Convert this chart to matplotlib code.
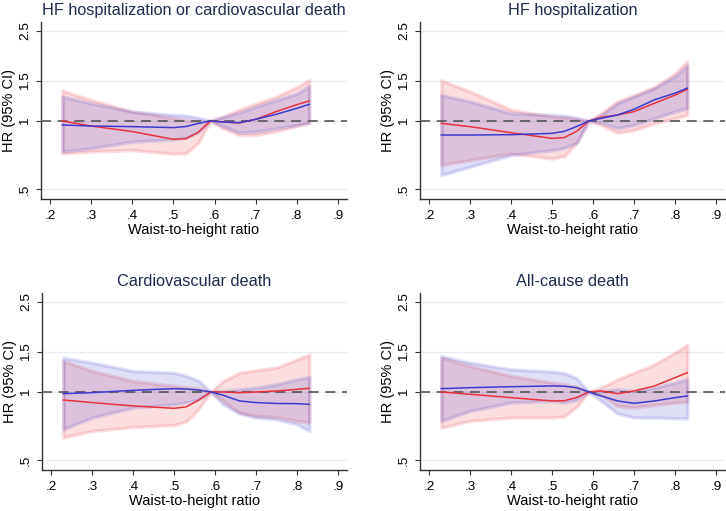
"""Waist-to-height ratio vs HR, restricted cubic spline, two groups, 4 outcomes."""
import matplotlib
matplotlib.use("Agg")
import matplotlib.pyplot as plt
from matplotlib.ticker import FixedLocator, NullLocator

matplotlib.rcParams.update({
    "font.family": ["Liberation Sans", "DejaVu Sans"], "font.size": 10,
    "axes.linewidth": 1, "xtick.direction": "out", "ytick.direction": "out",
    "xtick.major.size": 3.6, "ytick.major.size": 3.6,
})

whtr = [0.23, 0.30, 0.40, 0.50, 0.53, 0.56, 0.59, 0.62, 0.66, 0.70, 0.75, 0.80, 0.83]

titles = ["HF hospitalization or cardiovascular death", "HF hospitalization",
          "Cardiovascular death", "All-cause death"]

# HF hospitalization or CV death
hfcv_red = [1.0, 0.95, 0.898, 0.83, 0.835, 0.89, 1.0, 0.99, 0.98, 1.017, 1.10, 1.18, 1.225]
hfcv_red_hi = [1.36, 1.237, 1.10, 1.03, 1.01, 0.995, 1.0, 1.045, 1.12, 1.19, 1.28, 1.41, 1.515]
hfcv_red_lo = [0.72, 0.733, 0.745, 0.716, 0.72, 0.80, 1.0, 0.93, 0.868, 0.868, 0.90, 0.95, 0.977]
hfcv_blue = [0.96, 0.95, 0.944, 0.935, 0.945, 0.975, 1.0, 0.99, 0.983, 1.017, 1.07, 1.137, 1.184]
hfcv_blue_hi = [1.28, 1.196, 1.10, 1.063, 1.055, 1.035, 1.0, 1.04, 1.088, 1.156, 1.237, 1.32, 1.426]
hfcv_blue_lo = [0.733, 0.758, 0.81, 0.83, 0.845, 0.89, 1.0, 0.95, 0.889, 0.897, 0.928, 0.96, 0.983]

# HF hospitalization
hfh_red = [0.976, 0.944, 0.888, 0.838, 0.845, 0.90, 1.0, 1.038, 1.063, 1.10, 1.197, 1.30, 1.38]
hfh_red_hi = [1.51, 1.35, 1.12, 1.045, 1.035, 1.02, 1.0, 1.08, 1.22, 1.30, 1.41, 1.62, 1.83]
hfh_red_lo = [0.64, 0.672, 0.719, 0.683, 0.70, 0.80, 1.0, 0.96, 0.888, 0.912, 0.976, 1.027, 1.063]
hfh_blue = [0.867, 0.867, 0.87, 0.882, 0.90, 0.945, 1.0, 1.027, 1.063, 1.126, 1.24, 1.326, 1.395]
hfh_blue_hi = [1.30, 1.218, 1.081, 1.063, 1.055, 1.035, 1.0, 1.06, 1.197, 1.28, 1.395, 1.57, 1.75]
hfh_blue_lo = [0.577, 0.628, 0.707, 0.744, 0.76, 0.80, 1.0, 0.983, 0.928, 0.96, 1.027, 1.10, 1.138]

# Cardiovascular death
cvd_red = [0.922, 0.898, 0.868, 0.847, 0.86, 0.92, 1.0, 1.0, 0.993, 1.0, 1.01, 1.027, 1.038]
cvd_red_hi = [1.37, 1.237, 1.118, 1.063, 1.05, 1.035, 1.0, 1.118, 1.216, 1.246, 1.28, 1.39, 1.465]
cvd_red_lo = [0.63, 0.673, 0.70, 0.715, 0.74, 0.84, 1.0, 0.913, 0.811, 0.784, 0.776, 0.745, 0.733]
cvd_blue = [0.983, 0.993, 1.017, 1.034, 1.03, 1.02, 1.0, 0.967, 0.913, 0.898, 0.89, 0.888, 0.882]
cvd_blue_hi = [1.416, 1.346, 1.237, 1.216, 1.18, 1.12, 1.0, 1.01, 1.027, 1.045, 1.081, 1.137, 1.164]
cvd_blue_lo = [0.685, 0.771, 0.853, 0.882, 0.90, 0.93, 1.0, 0.882, 0.803, 0.771, 0.758, 0.72, 0.673]

# All-cause death
acd_red = [1.0, 0.977, 0.944, 0.913, 0.915, 0.945, 1.0, 1.01, 0.983, 1.01, 1.063, 1.156, 1.216]
acd_red_hi = [1.416, 1.30, 1.176, 1.099, 1.08, 1.055, 1.0, 1.045, 1.137, 1.216, 1.323, 1.49, 1.61]
acd_red_lo = [0.696, 0.745, 0.771, 0.771, 0.78, 0.86, 1.0, 0.97, 0.868, 0.853, 0.876, 0.898, 0.906]
acd_blue = [1.034, 1.045, 1.055, 1.063, 1.06, 1.045, 1.0, 0.96, 0.913, 0.891, 0.913, 0.944, 0.96]
acd_blue_hi = [1.44, 1.346, 1.258, 1.229, 1.21, 1.15, 1.0, 1.01, 1.027, 1.01, 1.045, 1.099, 1.137]
acd_blue_lo = [0.745, 0.825, 0.898, 0.913, 0.90, 0.92, 1.0, 0.913, 0.803, 0.771, 0.771, 0.766, 0.763]

panels = [
    (hfcv_red, hfcv_red_lo, hfcv_red_hi, hfcv_blue, hfcv_blue_lo, hfcv_blue_hi),
    (hfh_red, hfh_red_lo, hfh_red_hi, hfh_blue, hfh_blue_lo, hfh_blue_hi),
    (cvd_red, cvd_red_lo, cvd_red_hi, cvd_blue, cvd_blue_lo, cvd_blue_hi),
    (acd_red, acd_red_lo, acd_red_hi, acd_blue, acd_blue_lo, acd_blue_hi),
]

xticks = [0.2, 0.3, 0.4, 0.5, 0.6, 0.7, 0.8, 0.9]
xticklabels = [".2", ".3", ".4", ".5", ".6", ".7", ".8", ".9"]
yticks = [0.5, 1, 1.5, 2.5]
yticklabels = [".5", "1", "1.5", "2.5"]

RED = "#e8323c"
BLUE = "#3c3ccc"
TITLE_C = "#1c2a4e"

W, H = 726, 511
fig = plt.figure(figsize=(W / 100, H / 100), dpi=100)

# axes boxes in pixels: left, top, right, bottom
boxes = [(41, 22, 347, 199), (420, 22, 725, 199),
         (42, 293, 347, 470), (420, 293, 725, 470)]

for (l, t, r, b), title, data in zip(boxes, titles, panels):
    ax = fig.add_axes([l / W, (H - b) / H, (r - l) / W, (b - t) / H])
    rl, rlo, rhi, bl, blo, bhi = data
    ax.set_yscale("log")
    for lo, hi, c in [(rlo, rhi, RED), (blo, bhi, BLUE)]:
        ax.fill_between(whtr, lo, hi, facecolor=matplotlib.colors.to_rgba(c, 0.16),
                        edgecolor=matplotlib.colors.to_rgba(c, 0.16), linewidth=2.5)
    ax.axhline(1, color="#555555", lw=1.2, ls=(0, (6, 4)), zorder=3)
    ax.plot(whtr, rl, color=RED, lw=1.1, zorder=4)
    ax.plot(whtr, bl, color=BLUE, lw=1.1, zorder=4)

    ax.set_xlim(0.178, 0.922)
    ax.set_ylim(0.453, 2.73)
    ax.yaxis.set_major_locator(FixedLocator(yticks))
    ax.yaxis.set_minor_locator(NullLocator())
    ax.set_yticklabels(yticklabels, rotation=90, va="center")
    ax.set_xticks(xticks)
    ax.set_xticklabels(xticklabels)
    ax.grid(axis="y", color="#e6eef2", lw=1)
    ax.set_axisbelow(True)
    for s in ["top", "right"]:
        ax.spines[s].set_visible(False)
    for s in ["left", "bottom"]:
        ax.spines[s].set_color("#333333")
    ax.tick_params(colors="#333333", labelcolor="black", labelsize=9.7)
    ax.tick_params(axis="y", pad=3.6)
    ax.tick_params(axis="x", pad=4)
    ax.set_xlabel("Waist-to-height ratio", fontsize=10.5, labelpad=1)
    ax.set_ylabel("HR (95% CI)", fontsize=10.5, labelpad=2)
    ax.set_title(title, fontsize=11.7, color=TITLE_C, pad=5)

fig.savefig("out.png", dpi=100)
